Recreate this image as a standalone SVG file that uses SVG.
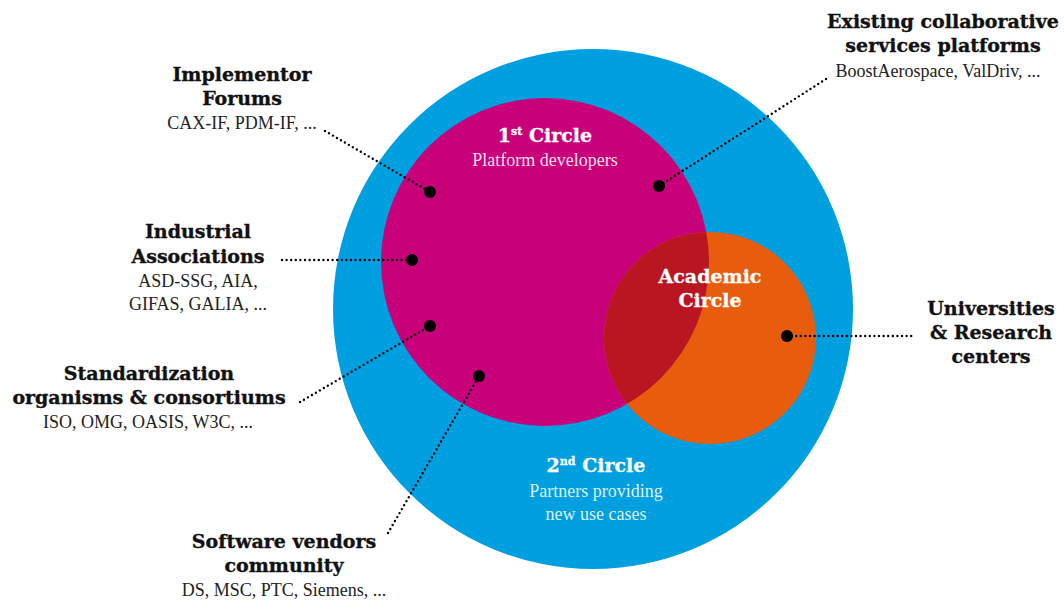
<svg xmlns="http://www.w3.org/2000/svg" width="1064" height="601" viewBox="0 0 1064 601">
<style>
.b{font-family:"DejaVu Serif",serif;font-weight:bold;font-size:19px;fill:#111;stroke:#111;stroke-width:0.35;text-anchor:middle}
.r{font-family:"Liberation Serif",serif;font-size:18px;fill:#222;text-anchor:middle}
.bw{font-family:"DejaVu Serif",serif;font-weight:bold;font-size:19px;fill:#fff;stroke:#fff;stroke-width:0.3;text-anchor:middle}
.rw{font-family:"Liberation Serif",serif;font-size:18px;fill:#fff;fill-opacity:0.88;text-anchor:middle}
.sup{font-size:11px}
.dl{fill:none;stroke:#000;stroke-width:2.4;stroke-linecap:round;stroke-dasharray:0 4.6}
.dot{fill:#000}
</style>
<defs>
<clipPath id="clipM"><circle cx="545" cy="262" r="164"/></clipPath>
</defs>
<rect width="1064" height="601" fill="#fff"/>
<g id="second-circle">
<circle cx="593" cy="309" r="260" fill="#009FE0"/>
<text class="bw" x="596" y="472">2<tspan class="sup" dy="-7">nd</tspan><tspan dy="7"> Circle</tspan></text>
<text class="rw" x="596" y="497">Partners providing</text>
<text class="rw" x="596" y="520">new use cases</text>
</g>
<g id="first-circle">
<circle cx="545" cy="262" r="164" fill="#C8007A"/>
<text class="bw" x="545" y="142">1<tspan class="sup" dy="-7">st</tspan><tspan dy="7"> Circle</tspan></text>
<text class="rw" x="545" y="166">Platform developers</text>
</g>
<g id="academic-circle">
<circle cx="710" cy="338" r="106" fill="#E85C0D"/>
<circle cx="710" cy="338" r="106" fill="#BA1622" clip-path="url(#clipM)"/>
<text class="bw" x="710" y="283">Academic</text>
<text class="bw" x="710" y="307">Circle</text>
</g>
<g id="connectors">
<line class="dl" x1="325" y1="131" x2="430" y2="192"/>
<line class="dl" x1="282" y1="260" x2="412" y2="260"/>
<line class="dl" x1="300" y1="402" x2="430" y2="326"/>
<line class="dl" x1="388" y1="533" x2="479" y2="376"/>
<line class="dl" x1="826" y1="79" x2="659" y2="186"/>
<line class="dl" x1="787" y1="336" x2="913" y2="336"/>
<circle class="dot" cx="430" cy="192" r="6"/>
<circle class="dot" cx="412" cy="260" r="6"/>
<circle class="dot" cx="430" cy="326" r="6"/>
<circle class="dot" cx="479" cy="376" r="6"/>
<circle class="dot" cx="659" cy="186" r="6"/>
<circle class="dot" cx="787" cy="336" r="6"/>
</g>
<g id="implementor-forums">
<text class="b" x="242" y="81">Implementor</text>
<text class="b" x="242" y="105">Forums</text>
<text class="r" x="242" y="129">CAX-IF, PDM-IF, ...</text>
</g>
<g id="industrial-associations">
<text class="b" x="198" y="238">Industrial</text>
<text class="b" x="198" y="263">Associations</text>
<text class="r" x="198" y="287">ASD-SSG, AIA,</text>
<text class="r" x="198" y="310">GIFAS, GALIA, ...</text>
</g>
<g id="standardization">
<text class="b" x="149" y="380">Standardization</text>
<text class="b" x="149" y="404">organisms &amp; consortiums</text>
<text class="r" x="148" y="428">ISO, OMG, OASIS, W3C, ...</text>
</g>
<g id="software-vendors">
<text class="b" x="284" y="548">Software vendors</text>
<text class="b" x="284" y="572">community</text>
<text class="r" x="284" y="596">DS, MSC, PTC, Siemens, ...</text>
</g>
<g id="existing-platforms">
<text class="b" x="943" y="28">Existing collaborative</text>
<text class="b" x="943" y="52">services platforms</text>
<text class="r" x="938" y="77">BoostAerospace, ValDriv, ...</text>
</g>
<g id="universities">
<text class="b" x="991" y="315">Universities</text>
<text class="b" x="991" y="339">&amp; Research</text>
<text class="b" x="991" y="363">centers</text>
</g>
</svg>
